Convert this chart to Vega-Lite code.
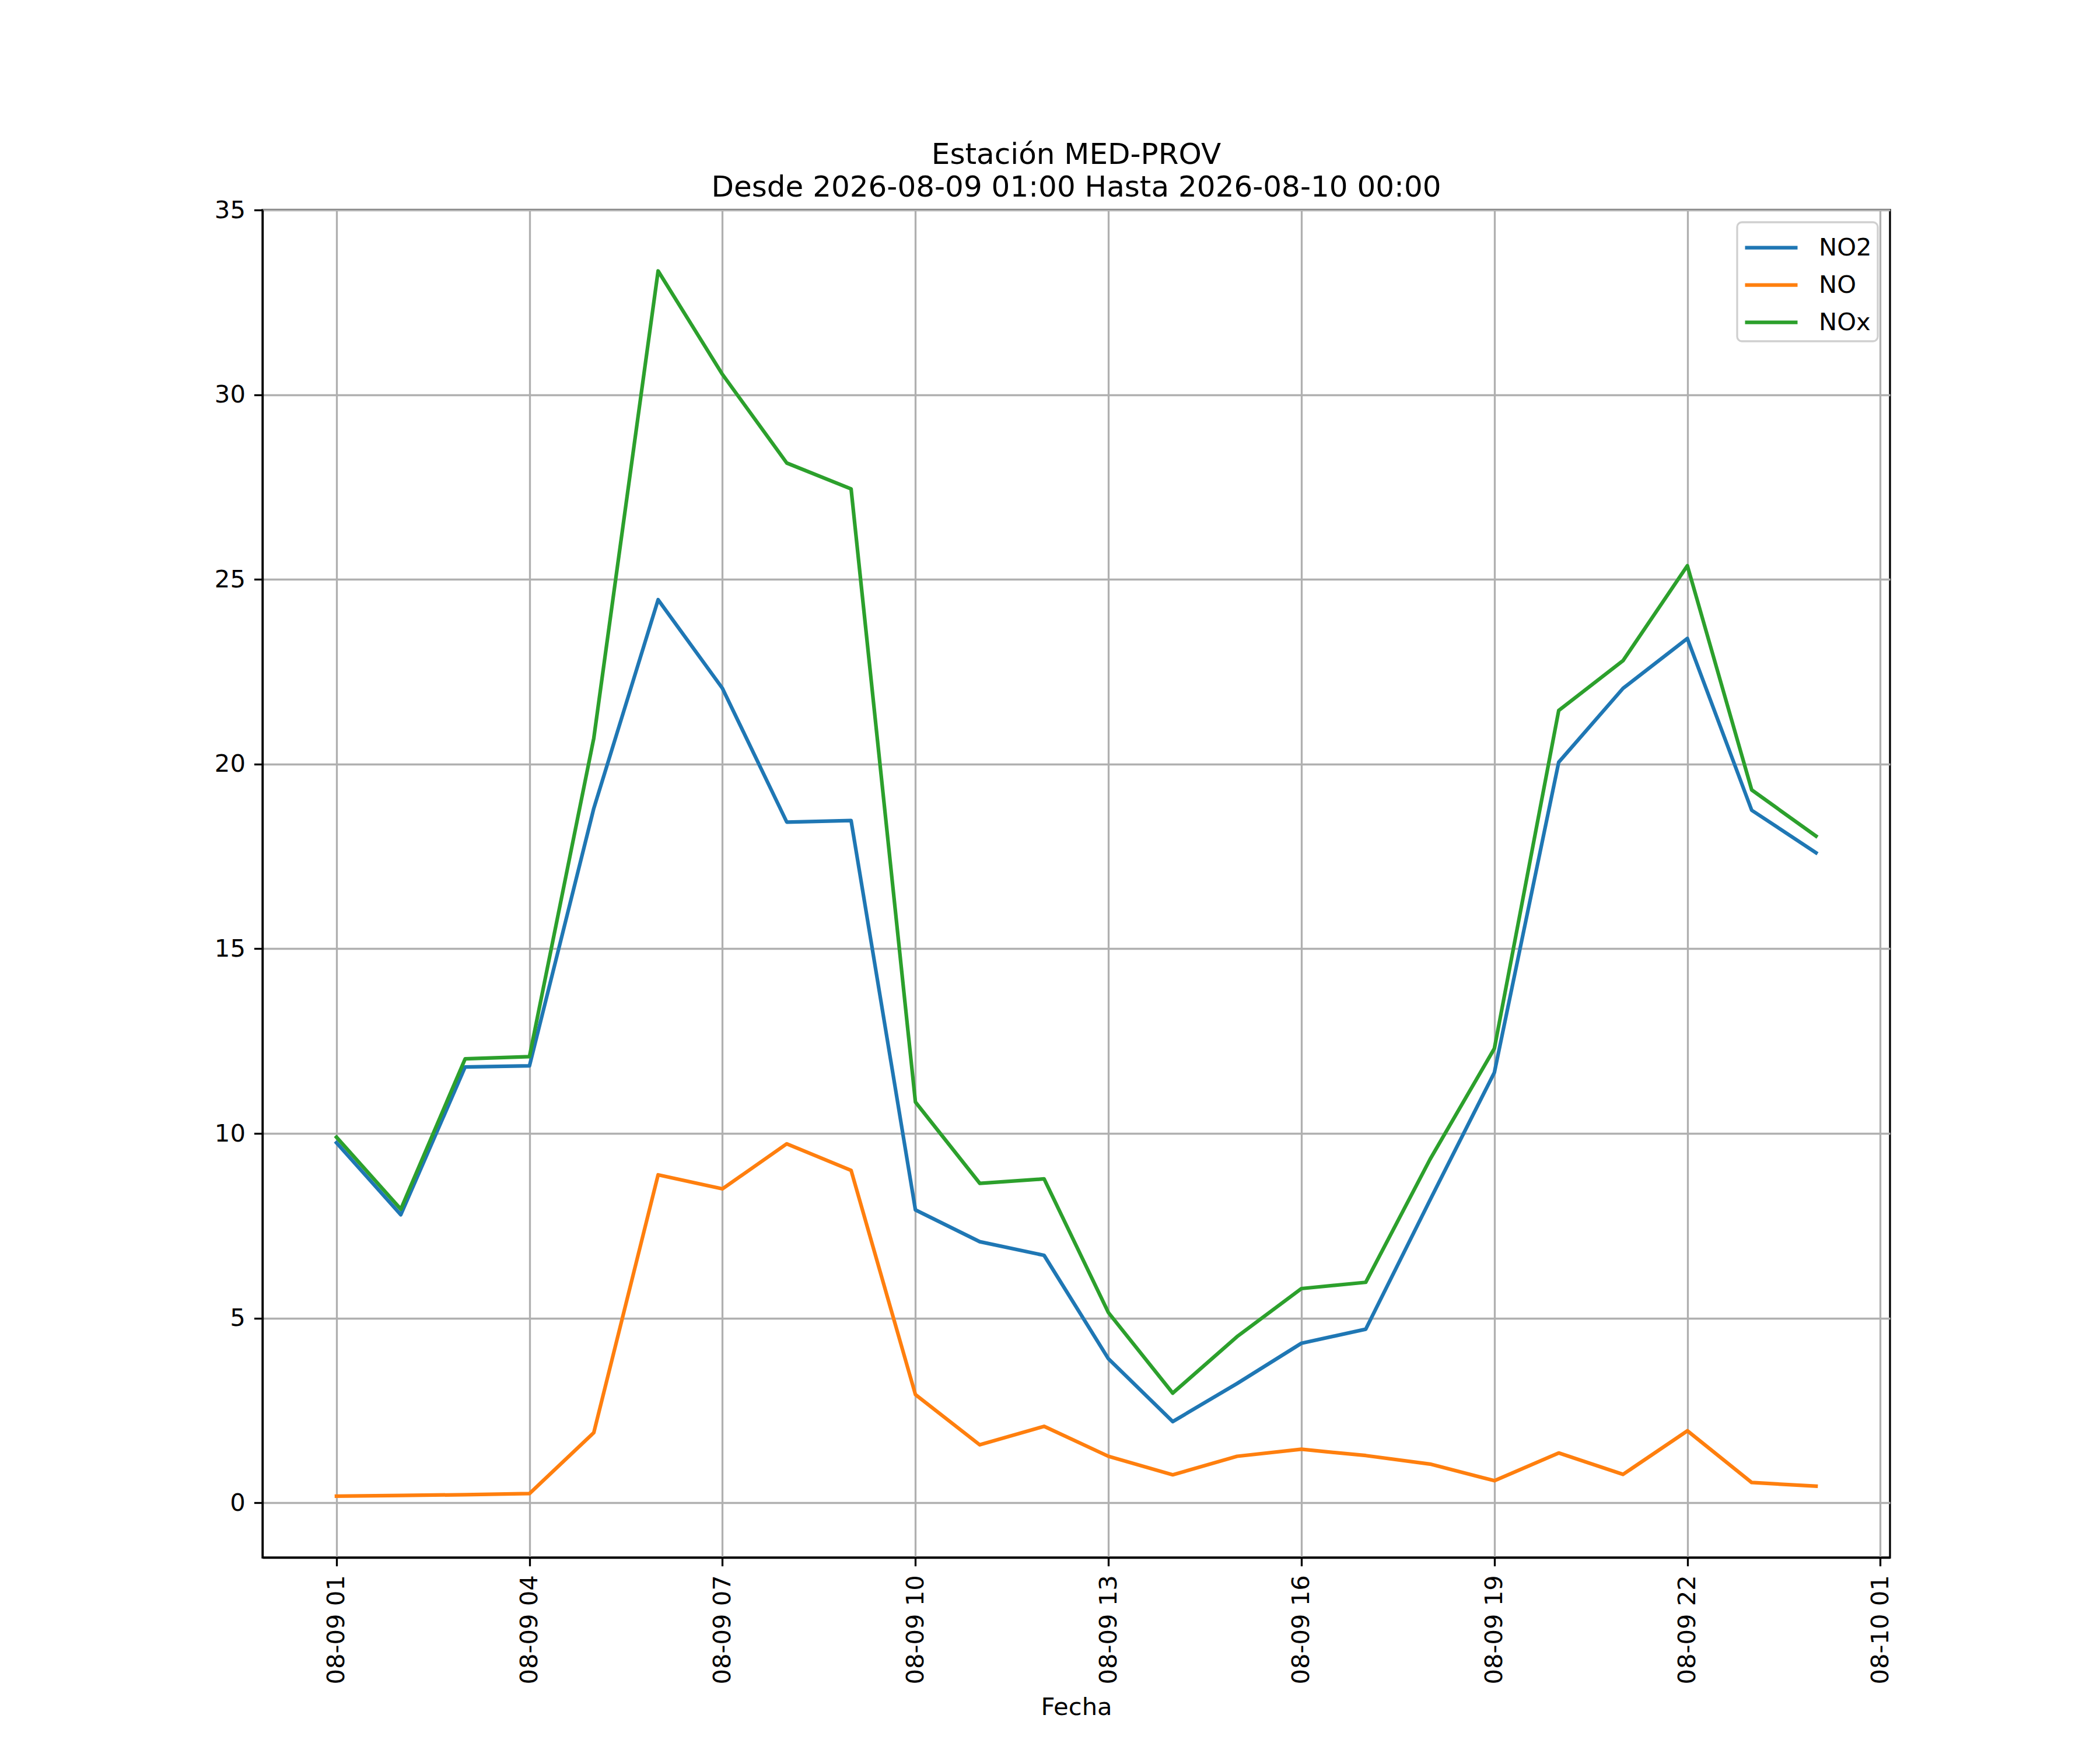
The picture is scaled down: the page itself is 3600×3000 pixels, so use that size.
{
  "$schema": "https://vega.github.io/schema/vega-lite/v6.json",
  "width": 2790,
  "height": 2310,
  "autosize": {"type": "none"},
  "padding": {"left": 450, "top": 360, "right": 360, "bottom": 330},
  "background": "white",
  "config": {
    "font": "DejaVu Sans",
    "view": {"stroke": "black", "strokeWidth": 3.3},
    "title": {
      "font": "DejaVu Sans",
      "fontSize": 50,
      "fontWeight": "normal",
      "color": "black",
      "anchor": "middle",
      "baseline": "alphabetic",
      "offset": -7,
      "lineHeight": 56
    },
    "axis": {
      "labelFont": "DejaVu Sans",
      "labelFontSize": 41.7,
      "labelColor": "black",
      "labelLimit": 0,
      "titleFont": "DejaVu Sans",
      "titleFontSize": 41.7,
      "titleFontWeight": "normal",
      "titleColor": "black",
      "domainColor": "black",
      "domainWidth": 3.3,
      "tickColor": "black",
      "tickWidth": 3.3,
      "tickSize": 14.6,
      "labelPadding": 15,
      "grid": true,
      "gridColor": "#b0b0b0",
      "gridWidth": 3.3
    },
    "legend": {
      "labelFont": "DejaVu Sans",
      "labelFontSize": 41.7,
      "labelColor": "black",
      "fillColor": "rgba(255,255,255,0.8)",
      "strokeColor": "#d0d0d0",
      "strokeWidth": 3.3,
      "cornerRadius": 8,
      "padding": 10,
      "symbolType": "M-1,0H2",
      "symbolSize": 3600,
      "symbolStrokeWidth": 6.25,
      "labelOffset": 63,
      "rowPadding": 8
    }
  },
  "title": {
    "text": ["Estación MED-PROV", "Desde 2026-08-09 01:00 Hasta 2026-08-10 00:00"]
  },
  "data": {
    "values": [
      {"fecha": "2026-08-09T01:00:00", "serie": "NO2", "valor": 9.75},
      {"fecha": "2026-08-09T02:00:00", "serie": "NO2", "valor": 7.8},
      {"fecha": "2026-08-09T03:00:00", "serie": "NO2", "valor": 11.8},
      {"fecha": "2026-08-09T04:00:00", "serie": "NO2", "valor": 11.83},
      {"fecha": "2026-08-09T05:00:00", "serie": "NO2", "valor": 18.8},
      {"fecha": "2026-08-09T06:00:00", "serie": "NO2", "valor": 24.45},
      {"fecha": "2026-08-09T07:00:00", "serie": "NO2", "valor": 22.05},
      {"fecha": "2026-08-09T08:00:00", "serie": "NO2", "valor": 18.43},
      {"fecha": "2026-08-09T09:00:00", "serie": "NO2", "valor": 18.47},
      {"fecha": "2026-08-09T10:00:00", "serie": "NO2", "valor": 7.93},
      {"fecha": "2026-08-09T11:00:00", "serie": "NO2", "valor": 7.07},
      {"fecha": "2026-08-09T12:00:00", "serie": "NO2", "valor": 6.7},
      {"fecha": "2026-08-09T13:00:00", "serie": "NO2", "valor": 3.9},
      {"fecha": "2026-08-09T14:00:00", "serie": "NO2", "valor": 2.2},
      {"fecha": "2026-08-09T15:00:00", "serie": "NO2", "valor": 3.23},
      {"fecha": "2026-08-09T16:00:00", "serie": "NO2", "valor": 4.32},
      {"fecha": "2026-08-09T17:00:00", "serie": "NO2", "valor": 4.7},
      {"fecha": "2026-08-09T18:00:00", "serie": "NO2", "valor": 8.2},
      {"fecha": "2026-08-09T19:00:00", "serie": "NO2", "valor": 11.65},
      {"fecha": "2026-08-09T20:00:00", "serie": "NO2", "valor": 20.05},
      {"fecha": "2026-08-09T21:00:00", "serie": "NO2", "valor": 22.05},
      {"fecha": "2026-08-09T22:00:00", "serie": "NO2", "valor": 23.4},
      {"fecha": "2026-08-09T23:00:00", "serie": "NO2", "valor": 18.75},
      {"fecha": "2026-08-10T00:00:00", "serie": "NO2", "valor": 17.6},
      {"fecha": "2026-08-09T01:00:00", "serie": "NO", "valor": 0.18},
      {"fecha": "2026-08-09T02:00:00", "serie": "NO", "valor": 0.2},
      {"fecha": "2026-08-09T03:00:00", "serie": "NO", "valor": 0.22},
      {"fecha": "2026-08-09T04:00:00", "serie": "NO", "valor": 0.25},
      {"fecha": "2026-08-09T05:00:00", "serie": "NO", "valor": 1.9},
      {"fecha": "2026-08-09T06:00:00", "serie": "NO", "valor": 8.88},
      {"fecha": "2026-08-09T07:00:00", "serie": "NO", "valor": 8.5},
      {"fecha": "2026-08-09T08:00:00", "serie": "NO", "valor": 9.72},
      {"fecha": "2026-08-09T09:00:00", "serie": "NO", "valor": 9.0},
      {"fecha": "2026-08-09T10:00:00", "serie": "NO", "valor": 2.93},
      {"fecha": "2026-08-09T11:00:00", "serie": "NO", "valor": 1.57},
      {"fecha": "2026-08-09T12:00:00", "serie": "NO", "valor": 2.07},
      {"fecha": "2026-08-09T13:00:00", "serie": "NO", "valor": 1.26},
      {"fecha": "2026-08-09T14:00:00", "serie": "NO", "valor": 0.76},
      {"fecha": "2026-08-09T15:00:00", "serie": "NO", "valor": 1.26},
      {"fecha": "2026-08-09T16:00:00", "serie": "NO", "valor": 1.45},
      {"fecha": "2026-08-09T17:00:00", "serie": "NO", "valor": 1.28},
      {"fecha": "2026-08-09T18:00:00", "serie": "NO", "valor": 1.05},
      {"fecha": "2026-08-09T19:00:00", "serie": "NO", "valor": 0.6},
      {"fecha": "2026-08-09T20:00:00", "serie": "NO", "valor": 1.35},
      {"fecha": "2026-08-09T21:00:00", "serie": "NO", "valor": 0.77},
      {"fecha": "2026-08-09T22:00:00", "serie": "NO", "valor": 1.95},
      {"fecha": "2026-08-09T23:00:00", "serie": "NO", "valor": 0.55},
      {"fecha": "2026-08-10T00:00:00", "serie": "NO", "valor": 0.45},
      {"fecha": "2026-08-09T01:00:00", "serie": "NOx", "valor": 9.9},
      {"fecha": "2026-08-09T02:00:00", "serie": "NOx", "valor": 7.95},
      {"fecha": "2026-08-09T03:00:00", "serie": "NOx", "valor": 12.02},
      {"fecha": "2026-08-09T04:00:00", "serie": "NOx", "valor": 12.08},
      {"fecha": "2026-08-09T05:00:00", "serie": "NOx", "valor": 20.7},
      {"fecha": "2026-08-09T06:00:00", "serie": "NOx", "valor": 33.35},
      {"fecha": "2026-08-09T07:00:00", "serie": "NOx", "valor": 30.55},
      {"fecha": "2026-08-09T08:00:00", "serie": "NOx", "valor": 28.15},
      {"fecha": "2026-08-09T09:00:00", "serie": "NOx", "valor": 27.45},
      {"fecha": "2026-08-09T10:00:00", "serie": "NOx", "valor": 10.85},
      {"fecha": "2026-08-09T11:00:00", "serie": "NOx", "valor": 8.65},
      {"fecha": "2026-08-09T12:00:00", "serie": "NOx", "valor": 8.77},
      {"fecha": "2026-08-09T13:00:00", "serie": "NOx", "valor": 5.15},
      {"fecha": "2026-08-09T14:00:00", "serie": "NOx", "valor": 2.97},
      {"fecha": "2026-08-09T15:00:00", "serie": "NOx", "valor": 4.5},
      {"fecha": "2026-08-09T16:00:00", "serie": "NOx", "valor": 5.8},
      {"fecha": "2026-08-09T17:00:00", "serie": "NOx", "valor": 5.97},
      {"fecha": "2026-08-09T18:00:00", "serie": "NOx", "valor": 9.3},
      {"fecha": "2026-08-09T19:00:00", "serie": "NOx", "valor": 12.3},
      {"fecha": "2026-08-09T20:00:00", "serie": "NOx", "valor": 21.45},
      {"fecha": "2026-08-09T21:00:00", "serie": "NOx", "valor": 22.8},
      {"fecha": "2026-08-09T22:00:00", "serie": "NOx", "valor": 25.37},
      {"fecha": "2026-08-09T23:00:00", "serie": "NOx", "valor": 19.3},
      {"fecha": "2026-08-10T00:00:00", "serie": "NOx", "valor": 18.05}
    ]
  },
  "mark": {"type": "line", "strokeWidth": 6.25, "strokeJoin": "round", "strokeCap": "square"},
  "encoding": {
    "x": {
      "field": "fecha",
      "type": "temporal",
      "title": "Fecha",
      "scale": {
        "domain": [
          {"year": 2026, "month": 8, "date": 8, "hours": 23, "minutes": 51},
          {"year": 2026, "month": 8, "date": 10, "hours": 1, "minutes": 9}
        ],
        "nice": false
      },
      "axis": {
        "format": "%m-%d %H",
        "labelAngle": 270,
        "labelAlign": "right",
        "labelBaseline": "middle",
        "titlePadding": 36,
        "values": [
          {"year": 2026, "month": 8, "date": 9, "hours": 1},
          {"year": 2026, "month": 8, "date": 9, "hours": 4},
          {"year": 2026, "month": 8, "date": 9, "hours": 7},
          {"year": 2026, "month": 8, "date": 9, "hours": 10},
          {"year": 2026, "month": 8, "date": 9, "hours": 13},
          {"year": 2026, "month": 8, "date": 9, "hours": 16},
          {"year": 2026, "month": 8, "date": 9, "hours": 19},
          {"year": 2026, "month": 8, "date": 9, "hours": 22},
          {"year": 2026, "month": 8, "date": 10, "hours": 1}
        ]
      }
    },
    "y": {
      "field": "valor",
      "type": "quantitative",
      "title": null,
      "scale": {"domain": [-1.48, 35.0], "nice": false, "zero": false},
      "axis": {"values": [0, 5, 10, 15, 20, 25, 30, 35]}
    },
    "color": {
      "field": "serie",
      "type": "nominal",
      "sort": ["NO2", "NO", "NOx"],
      "scale": {"domain": ["NO2", "NO", "NOx"], "range": ["#1f77b4", "#ff7f0e", "#2ca02c"]},
      "legend": {"title": null, "orient": "top-right", "offset": 21}
    }
  }
}
